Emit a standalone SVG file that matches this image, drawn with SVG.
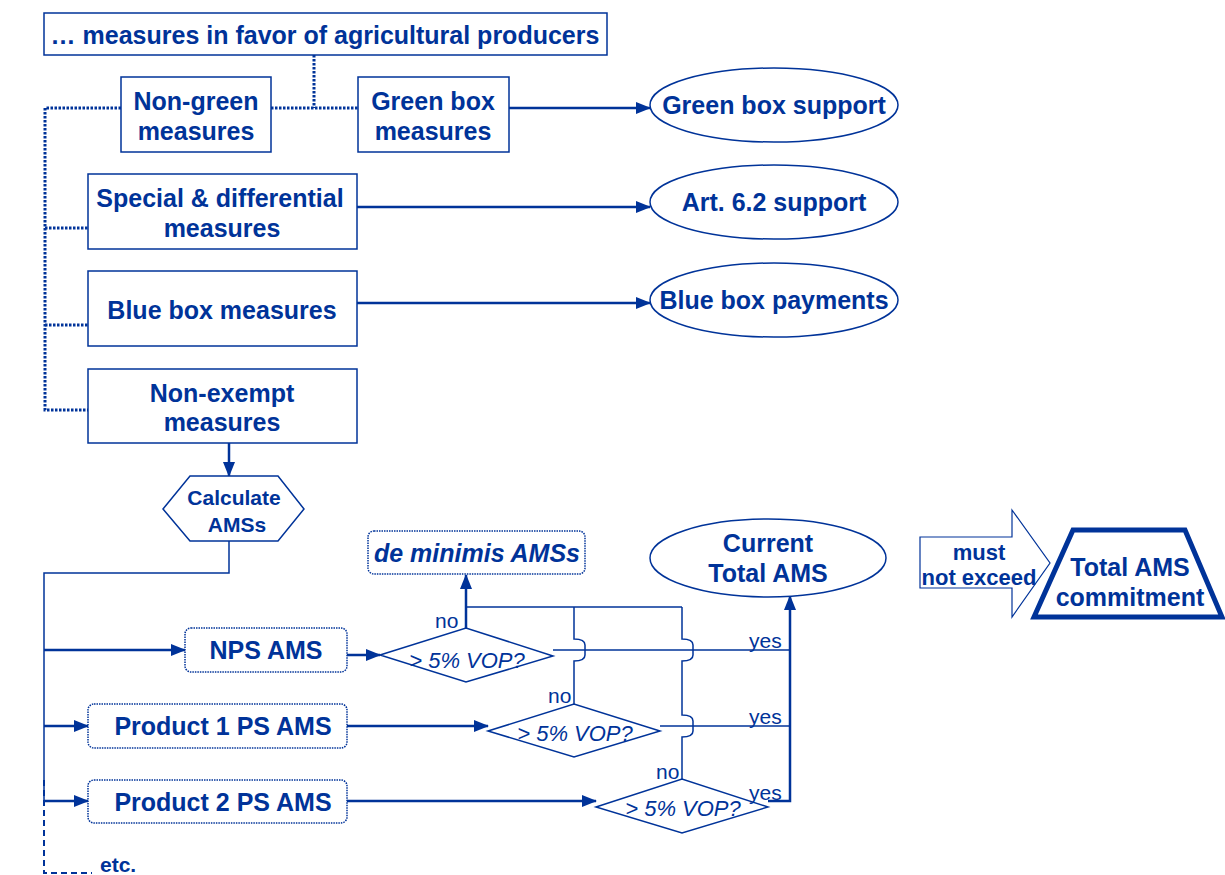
<svg xmlns="http://www.w3.org/2000/svg" width="1225" height="875" viewBox="0 0 1225 875">
<style>
text{font-family:"Liberation Sans",Arial,sans-serif;fill:#003399;text-anchor:middle}
.b{font-weight:bold;font-size:25px}
.c{font-weight:bold;font-size:21px}
.m{font-weight:bold;font-size:22px}
.i{font-style:italic;font-size:22px}
.s{font-size:21px;text-anchor:start}
.box{fill:#fff;stroke:#003399;stroke-width:1.5}
.rbox{fill:#fff;stroke:#003399;stroke-width:1.5;stroke-dasharray:1.5 1}
.dot{fill:none;stroke:#003399;stroke-width:3;stroke-dasharray:2.5 1.5}
.thick{fill:none;stroke:#003399;stroke-width:2.5}
.thin{fill:none;stroke:#003399;stroke-width:1.5}
.dash{fill:none;stroke:#003399;stroke-width:2;stroke-dasharray:6 4}
</style>
<defs>
<marker id="ah" markerUnits="userSpaceOnUse" markerWidth="15" markerHeight="12" refX="14" refY="6" orient="auto">
<path d="M0,0 L15,6 L0,12 Z" fill="#003399"/>
</marker>
</defs>
<rect width="1225" height="875" fill="#fff"/>
<g id="connectors">
<path class="dot" d="M314,55 V108"/>
<path class="dot" d="M271,108 H358"/>
<path class="dot" d="M121,108 H45 V410 H88"/>
<path class="dot" d="M45,228 H88"/>
<path class="dot" d="M45,325 H88"/>
<path class="thick" d="M509,108 H650" marker-end="url(#ah)"/>
<path class="thick" d="M357,207 H650" marker-end="url(#ah)"/>
<path class="thick" d="M357,303 H650" marker-end="url(#ah)"/>
<path class="thick" d="M229,443 V476" marker-end="url(#ah)"/>
<path class="thin" d="M229,541 V573 H44 V801"/>
<path class="dash" d="M44,780 V873 H92"/>
<path class="thick" d="M44,650 H185" marker-end="url(#ah)"/>
<path class="thick" d="M44,726 H88" marker-end="url(#ah)"/>
<path class="thick" d="M44,801 H88" marker-end="url(#ah)"/>
<path class="thick" d="M347,655 H380" marker-end="url(#ah)"/>
<path class="thick" d="M347,726 H488" marker-end="url(#ah)"/>
<path class="thick" d="M347,801 H596" marker-end="url(#ah)"/>
<path class="thick" d="M466,628 V575" marker-end="url(#ah)"/>
<path class="thin" d="M466,607 H682"/>
<path class="thin" d="M574,607 V639 Q585,639 585,645 V655 Q585,661 574,661 V704"/>
<path class="thin" d="M682,607 V639 Q693,639 693,645 V655 Q693,661 682,661 V715 Q693,715 693,721 V731 Q693,737 682,737 V779"/>
<path class="thin" d="M553,650 H790"/>
<path class="thin" d="M660,726 H790"/>
<path class="thick" d="M768,801 H790 V596" marker-end="url(#ah)"/>
</g>
<g id="top">
<rect class="box" x="44" y="13" width="563" height="42"/>
<text class="b" x="325" y="43.5">… measures in favor of agricultural producers</text>
</g>
<g id="nongreen">
<rect class="box" x="121" y="77" width="150" height="75"/>
<text class="b" x="196" y="110">Non-green</text>
<text class="b" x="196" y="140">measures</text>
</g>
<g id="greenbox">
<rect class="box" x="358" y="77" width="151" height="75"/>
<text class="b" x="433" y="110">Green box</text>
<text class="b" x="433" y="140">measures</text>
</g>
<g id="special">
<rect class="box" x="88" y="174" width="269" height="75"/>
<text class="b" x="220" y="207">Special &amp; differential</text>
<text class="b" x="222" y="237">measures</text>
</g>
<g id="bluebox">
<rect class="box" x="88" y="271" width="269" height="75"/>
<text class="b" x="222" y="319">Blue box measures</text>
</g>
<g id="nonexempt">
<rect class="box" x="88" y="369" width="269" height="74"/>
<text class="b" x="222" y="402">Non-exempt</text>
<text class="b" x="222" y="431">measures</text>
</g>
<g id="greensupport">
<ellipse class="box" cx="774" cy="105" rx="124" ry="37"/>
<text class="b" x="774" y="114">Green box support</text>
</g>
<g id="art62">
<ellipse class="box" cx="774" cy="202" rx="124" ry="37"/>
<text class="b" x="774" y="211">Art. 6.2 support</text>
</g>
<g id="bluepay">
<ellipse class="box" cx="774" cy="300" rx="124" ry="37"/>
<text class="b" x="774" y="309">Blue box payments</text>
</g>
<g id="calc">
<polygon class="box" points="163,509 190,476 278,476 304,509 278,541 190,541"/>
<text class="c" x="234" y="504.5">Calculate</text>
<text class="c" x="237" y="531.5">AMSs</text>
</g>
<g id="deminimis">
<rect class="rbox" x="368" y="531" width="217" height="43" rx="6"/>
<text class="b" x="477" y="562" font-style="italic">de minimis AMSs</text>
</g>
<g id="nps">
<rect class="rbox" x="185" y="628" width="162" height="44" rx="6"/>
<text class="b" x="266" y="659">NPS AMS</text>
</g>
<g id="prod1">
<rect class="rbox" x="88" y="704" width="259" height="44" rx="6"/>
<text class="b" x="223" y="735">Product 1 PS AMS</text>
</g>
<g id="prod2">
<rect class="rbox" x="88" y="780" width="259" height="43" rx="6"/>
<text class="b" x="223" y="811">Product 2 PS AMS</text>
</g>
<g id="d1">
<polygon class="box" points="380,655 466,628 553,656 466,682"/>
<text class="i" x="467" y="667.5">&gt; 5% VOP?</text>
</g>
<g id="d2">
<polygon class="box" points="488,731 574,704 660,731 574,757"/>
<text class="i" x="575" y="740.5">&gt; 5% VOP?</text>
</g>
<g id="d3">
<polygon class="box" points="596,807 682,779 768,807 682,833"/>
<text class="i" x="683" y="815.5">&gt; 5% VOP?</text>
</g>
<g id="labels">
<text class="s" x="435" y="628">no</text>
<text class="s" x="548" y="703">no</text>
<text class="s" x="656" y="779">no</text>
<text class="s" x="749" y="648">yes</text>
<text class="s" x="749" y="724">yes</text>
<text class="s" x="749" y="800">yes</text>
<text class="c" x="100" y="872" style="text-anchor:start">etc.</text>
</g>
<g id="current">
<ellipse class="box" cx="768" cy="558" rx="118" ry="39"/>
<text class="b" x="768" y="552">Current</text>
<text class="b" x="768" y="582">Total AMS</text>
</g>
<g id="mustarrow">
<polygon fill="#fff" stroke="#003399" stroke-width="1.2" points="920,537 1012,537 1012,510 1050,563 1012,617 1012,588 920,588"/>
<text class="m" x="979" y="560">must</text>
<text class="m" x="979" y="585">not exceed</text>
</g>
<g id="commitment">
<polygon fill="#fff" stroke="#003399" stroke-width="5" stroke-linejoin="miter" points="1034,617 1073,530 1185,530 1222,617"/>
<text class="b" x="1130" y="576">Total AMS</text>
<text class="b" x="1130" y="606">commitment</text>
</g>
</svg>
